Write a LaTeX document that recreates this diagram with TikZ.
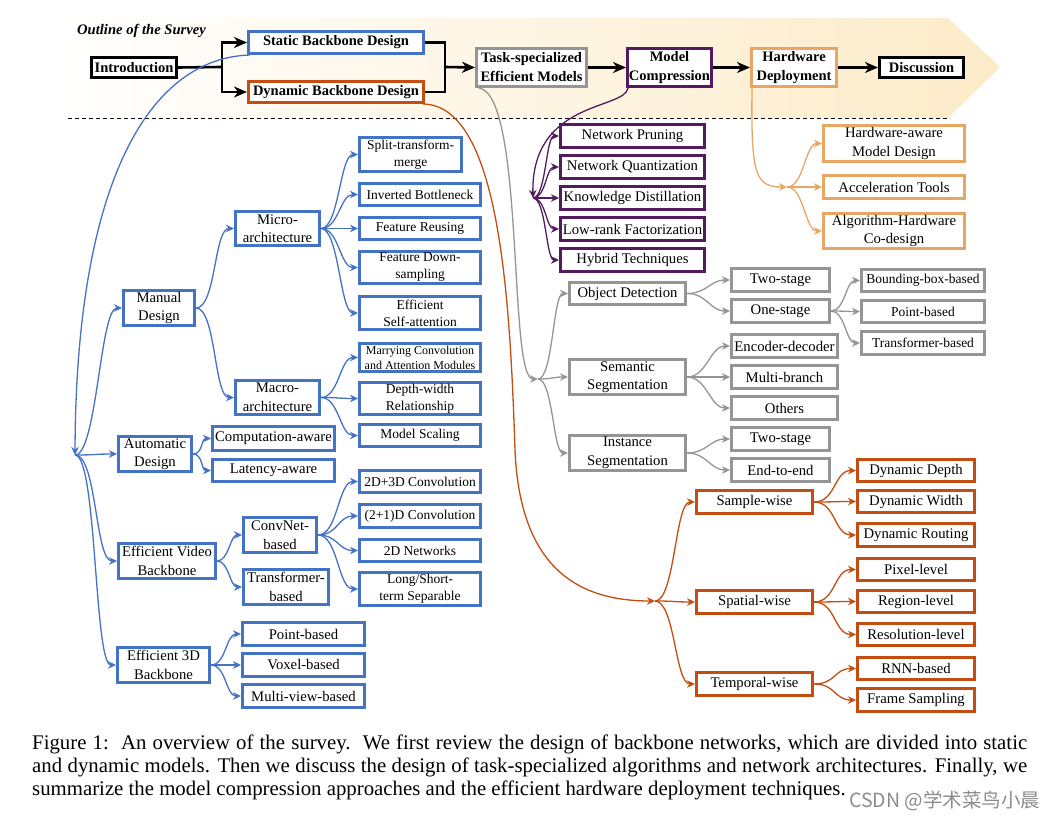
\documentclass[tikz,border=0pt]{standalone}
\usepackage{fontspec}
\setmainfont{Liberation Serif}
\newfontfamily\cjkfont{Noto Sans CJK SC}
\newfontfamily\capfont{Liberation Serif}
\usetikzlibrary{arrows.meta,backgrounds}
\definecolor{blueC}{RGB}{68,114,196}
\definecolor{purpC}{RGB}{84,26,96}
\definecolor{hwC}{RGB}{232,166,100}
\definecolor{grayC}{RGB}{150,148,150}
\definecolor{dynC}{RGB}{196,77,18}
\definecolor{bannerC}{RGB}{252,235,200}
\newcommand\fA{\fontsize{14.7}{18.5}\selectfont}
\newcommand\fB{\fontsize{13.5}{17}\selectfont}
\newcommand\fC{\fontsize{12}{15}\selectfont}
\newcommand\fT{\fontsize{14.5}{19}\selectfont\bfseries}
\newcommand\mybox[7]{\node[#6,minimum width={(#4-#2-2.8)*1pt},minimum height={(#5-#3-2.8)*1pt}] (#1) at ({(#2+#4)/2},{(#3+#5)/2}) {#7};}
\tikzset{
  bx/.style={draw, line width=2.8pt, fill=white, inner sep=0pt, align=center, text=black},
  topb/.style={bx, font=\fT},
  blA/.style={bx, draw=blueC, font=\fA},
  blB/.style={bx, draw=blueC, font=\fB},
  blC/.style={bx, draw=blueC, font=\fC},
  puA/.style={bx, draw=purpC, font=\fA},
  hwA/.style={bx, draw=hwC, font=\fA},
  grA/.style={bx, draw=grayC, font=\fA},
  grB/.style={bx, draw=grayC, font=\fB},
  dyA/.style={bx, draw=dynC, font=\fA},
  ar/.style={line width=1.3pt, -{Stealth[length=8pt,width=7.5pt,inset=2.5pt]}},
  thk/.style={line width=2.6pt, line join=miter},
  thkar/.style={thk, -{Stealth[length=13pt,width=11pt,inset=4pt]}},
  capt/.style={anchor=base west, inner sep=0pt, font=\capfont\fontsize{20.8}{23}\selectfont},
}
\begin{document}
\begin{tikzpicture}[x=1pt,y=-1pt]
\useasboundingbox (0,0) rectangle (1055,818);
\node[anchor=west, inner sep=0pt, font=\fontsize{14.6}{15}\selectfont\bfseries\itshape] (outl) at (77,31) {Outline of the Survey};
% top level
\mybox{intro}{90}{56}{178}{79}{topb}{Introduction}
\mybox{static}{247}{30}{425}{55}{topb,draw=blueC}{Static Backbone Design}
\mybox{dynamic}{247}{80}{425}{104}{topb,draw=dynC}{Dynamic Backbone Design}
\mybox{task}{475}{47}{588}{88}{topb,draw=grayC}{Task-specialized\\Efficient Models}
\mybox{mc}{626}{47}{713}{88}{topb,draw=purpC}{Model\\Compression}
\mybox{hd}{750}{47}{838}{88}{topb,draw=hwC}{Hardware\\Deployment}
\mybox{disc}{878}{56}{965}{79}{topb}{Discussion}
% blue tree
\mybox{manual}{122}{289}{196}{327}{blA}{Manual\\Design}
\mybox{micro}{234}{210}{321}{247}{blA}{Micro-\\architecture}
\mybox{macro}{234}{379}{321}{416}{blA}{Macro-\\architecture}
\mybox{stm}{358}{136}{463}{173}{blB}{Split-transform-\\merge}
\mybox{ib}{358}{182}{482}{207}{blB}{Inverted Bottleneck}
\mybox{fr}{358}{216}{482}{241}{blB}{Feature Reusing}
\mybox{fd}{358}{250}{482}{285}{blB}{Feature Down-\\sampling}
\mybox{esa}{358}{295}{482}{331}{blB}{Efficient\\Self-attention}
\mybox{mca}{358}{342}{482}{373}{blC}{Marrying Convolution\\and Attention Modules}
\mybox{dwr}{358}{381}{482}{416}{blB}{Depth-width\\Relationship}
\mybox{ms}{358}{423}{482}{448}{blB}{Model Scaling}
\mybox{auto}{117}{435}{193}{473}{blA}{Automatic\\Design}
\mybox{comp}{211}{425}{336}{452}{blA}{Computation-aware}
\mybox{lat}{211}{458}{336}{483}{blA}{Latency-aware}
\mybox{video}{117}{542}{217}{580}{blA}{Efficient Video\\Backbone}
\mybox{convnet}{242}{516}{318}{554}{blA}{ConvNet-\\based}
\mybox{trans}{242}{568}{330}{606}{blA}{Transformer-\\based}
\mybox{c23}{358}{469}{482}{494}{blB}{2D+3D Convolution}
\mybox{c21}{358}{503}{482}{529}{blB}{(2+1)D Convolution}
\mybox{n2d}{358}{538}{482}{563}{blB}{2D Networks}
\mybox{lst}{358}{571}{482}{607}{blB}{Long/Short-\\term Separable}
\mybox{e3d}{116}{646}{211}{684}{blA}{Efficient 3D\\Backbone}
\mybox{pb}{241}{621}{366}{647}{blA}{Point-based}
\mybox{vb}{241}{652}{366}{678}{blA}{Voxel-based}
\mybox{mvb}{241}{683}{366}{709}{blA}{Multi-view-based}
% purple
\mybox{np}{559}{123}{706}{149}{puA}{Network Pruning}
\mybox{nq}{559}{154}{706}{180}{puA}{Network Quantization}
\mybox{kd}{559}{185}{706}{211}{puA}{Knowledge Distillation}
\mybox{lr}{559}{216}{706}{242}{puA}{Low-rank Factorization}
\mybox{ht}{559}{247}{706}{273}{puA}{Hybrid Techniques}
% hardware
\mybox{hmd}{822}{124}{966}{163}{hwA}{Hardware-aware\\Model Design}
\mybox{at}{822}{174}{966}{200}{hwA}{Acceleration Tools}
\mybox{ahc}{822}{212}{966}{250}{hwA}{Algorithm-Hardware\\Co-design}
% gray
\mybox{od}{568}{281}{687}{306}{grA}{Object Detection}
\mybox{ss}{568}{358}{687}{396}{grA}{Semantic\\Segmentation}
\mybox{is}{568}{434}{687}{472}{grA}{Instance\\Segmentation}
\mybox{tsa}{730}{267}{831}{293}{grA}{Two-stage}
\mybox{os}{730}{298}{831}{324}{grA}{One-stage}
\mybox{bb}{860}{268}{986}{293}{grB}{Bounding-box-based}
\mybox{ptb}{860}{299}{986}{324}{grB}{Point-based}
\mybox{trb}{860}{330}{986}{356}{grB}{Transformer-based}
\mybox{ed}{730}{333}{839}{359}{grA}{Encoder-decoder}
\mybox{mb}{730}{364}{839}{390}{grA}{Multi-branch}
\mybox{ot}{730}{395}{839}{421}{grA}{Others}
\mybox{tsb}{730}{426}{831}{452}{grA}{Two-stage}
\mybox{ee}{730}{457}{831}{483}{grA}{End-to-end}
% dynamic
\mybox{sw}{695}{489}{814}{515}{dyA}{Sample-wise}
\mybox{spw}{695}{589}{814}{615}{dyA}{Spatial-wise}
\mybox{tw}{695}{671}{814}{697}{dyA}{Temporal-wise}
\mybox{dd}{856}{458}{976}{483}{dyA}{Dynamic Depth}
\mybox{dw}{856}{489}{976}{514}{dyA}{Dynamic Width}
\mybox{dr}{856}{522}{976}{548}{dyA}{Dynamic Routing}
\mybox{pl}{856}{557}{976}{582}{dyA}{Pixel-level}
\mybox{rl}{856}{589}{976}{614}{dyA}{Region-level}
\mybox{rsl}{856}{622}{976}{647}{dyA}{Resolution-level}
\mybox{rnn}{856}{656}{976}{681}{dyA}{RNN-based}
\mybox{fs}{856}{687}{976}{713}{dyA}{Frame Sampling}
% caption
\node[capt] (cap1) at (32,749) {\hbox to 995pt{Figure 1:\ \ An overview of the survey.\ \ We first review the design of backbone networks, which are divided into static}};
\node[capt] (cap2) at (32,772) {\hbox to 995pt{and dynamic models. Then we discuss the design of task-specialized algorithms and network architectures. Finally, we}};
\node[capt] (cap3) at (32,795) {summarize the model compression approaches and the efficient hardware deployment techniques.};
\node[anchor=base west, inner sep=0pt, text=black!45, font=\cjkfont\fontsize{19.5}{20}\selectfont] (wm) at (849,807) {CSDN @学术菜鸟小晨};
\begin{pgfonlayer}{background}
\shade[left color=white, right color=bannerC] (60,18) -- (948,18) -- (1000,67) -- (948,118) -- (60,118) -- cycle;
\draw[line width=0.9pt, dash pattern=on 4pt off 3pt] (68,118) -- (947,118);
% top-level arrows
\coordinate (j1) at (222,67);
\coordinate (j2) at (445,67);
\draw[thk] (intro.east) -- (j1);
\draw[thkar] (j1) |- (static.west);
\draw[thkar] (j1) |- (dynamic.west);
\draw[thk] (static.east) -| (j2);
\draw[thk] (dynamic.east) -| (j2);
\draw[thkar] (j2) -- (task.west);
\draw[thkar] (task.east) -- (mc.west);
\draw[thkar] (mc.east) -- (hd.west);
\draw[thkar] (hd.east) -- (disc.west);
% blue
\coordinate (rB) at (75,455);
\draw[ar, blueC] ([xshift=3pt]static.south west) .. controls (150,58) and (76,180) .. (rB);
\foreach \t in {manual,auto,video,e3d} \draw[ar, blueC] (rB) to[out=0,in=180,distance=22pt] (\t.west);
\foreach \t in {micro,macro} \draw[ar, blueC] (manual.east) to[out=0,in=180,distance=20pt] (\t.west);
\foreach \t in {stm,ib,fr,fd,esa} \draw[ar, blueC] (micro.east) to[out=0,in=180,distance=18pt] (\t.west);
\foreach \t in {mca,dwr,ms} \draw[ar, blueC] (macro.east) to[out=0,in=180,distance=18pt] (\t.west);
\foreach \t in {comp,lat} \draw[ar, blueC] (auto.east) to[out=0,in=180,distance=10pt] (\t.west);
\foreach \t in {convnet,trans} \draw[ar, blueC] (video.east) to[out=0,in=180,distance=12pt] (\t.west);
\foreach \t in {c23,c21,n2d,lst} \draw[ar, blueC] (convnet.east) to[out=0,in=180,distance=20pt] (\t.west);
\foreach \t in {pb,vb,mvb} \draw[ar, blueC] (e3d.east) to[out=0,in=180,distance=15pt] (\t.west);
% purple
\coordinate (rP) at (533,198);
\draw[ar, purpC] ([xshift=2pt]mc.south west) .. controls (625,110) and (531,100) .. (rP);
\foreach \t in {np,nq,kd,lr,ht} \draw[ar, purpC] (rP) to[out=0,in=180,distance=13pt] (\t.west);
% hardware
\coordinate (rH) at (787,187);
\draw[ar, hwC] ([xshift=2pt]hd.south west) .. controls (751,175) and (755,187) .. (rH);
\foreach \t in {hmd,at,ahc} \draw[ar, hwC] (rH) to[out=0,in=180,distance=17pt] (\t.west);
% gray
\coordinate (rG) at (538,379);
\draw[ar, grayC] ([xshift=4pt]task.south west) .. controls (525,95) and (508,379) .. (rG);
\foreach \t in {od,ss,is} \draw[ar, grayC] (rG) to[out=0,in=180,distance=15pt] (\t.west);
\foreach \t in {tsa,os} \draw[ar, grayC] (od.east) to[out=0,in=180,distance=20pt] (\t.west);
\foreach \t in {bb,ptb,trb} \draw[ar, grayC] (os.east) to[out=0,in=180,distance=14pt] (\t.west);
\foreach \t in {ed,mb,ot} \draw[ar, grayC] (ss.east) to[out=0,in=180,distance=20pt] (\t.west);
\foreach \t in {tsb,ee} \draw[ar, grayC] (is.east) to[out=0,in=180,distance=20pt] (\t.west);
% dynamic
\coordinate (rD) at (655,601);
\draw[ar, dynC] ([xshift=-2pt]dynamic.south east) .. controls (500,105) and (510,300) .. (515,450) .. controls (520,570) and (580,601) .. (rD);
\foreach \t in {sw,spw,tw} \draw[ar, dynC] (rD) to[out=0,in=180,distance=20pt] (\t.west);
\foreach \t in {dd,dw,dr} \draw[ar, dynC] (sw.east) to[out=0,in=180,distance=22pt] (\t.west);
\foreach \t in {pl,rl,rsl} \draw[ar, dynC] (spw.east) to[out=0,in=180,distance=22pt] (\t.west);
\foreach \t in {rnn,fs} \draw[ar, dynC] (tw.east) to[out=0,in=180,distance=22pt] (\t.west);
\end{pgfonlayer}
\end{tikzpicture}
\end{document}
